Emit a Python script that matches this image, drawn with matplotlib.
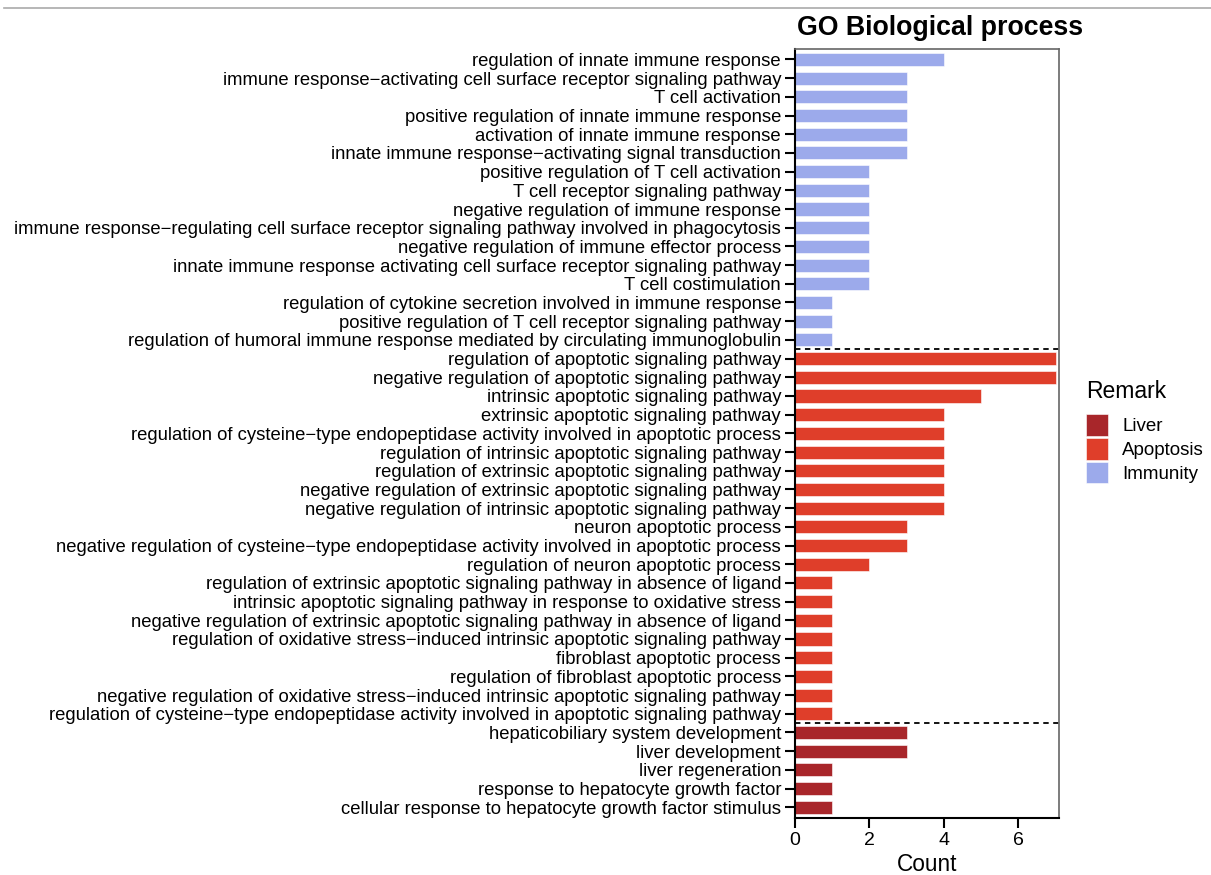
import matplotlib
matplotlib.use("Agg")
import matplotlib.pyplot as plt
from matplotlib.patches import Patch
from matplotlib.lines import Line2D

plt.rcParams['font.family'] = ['Liberation Sans', 'DejaVu Sans']

immunity_terms = [
    "regulation of innate immune response",
    "immune response\u2212activating cell surface receptor signaling pathway",
    "T cell activation",
    "positive regulation of innate immune response",
    "activation of innate immune response",
    "innate immune response\u2212activating signal transduction",
    "positive regulation of T cell activation",
    "T cell receptor signaling pathway",
    "negative regulation of immune response",
    "immune response\u2212regulating cell surface receptor signaling pathway involved in phagocytosis",
    "negative regulation of immune effector process",
    "innate immune response activating cell surface receptor signaling pathway",
    "T cell costimulation",
    "regulation of cytokine secretion involved in immune response",
    "positive regulation of T cell receptor signaling pathway",
    "regulation of humoral immune response mediated by circulating immunoglobulin",
]
immunity_counts = [4, 3, 3, 3, 3, 3, 2, 2, 2, 2, 2, 2, 2, 1, 1, 1]

apoptosis_terms = [
    "regulation of apoptotic signaling pathway",
    "negative regulation of apoptotic signaling pathway",
    "intrinsic apoptotic signaling pathway",
    "extrinsic apoptotic signaling pathway",
    "regulation of cysteine\u2212type endopeptidase activity involved in apoptotic process",
    "regulation of intrinsic apoptotic signaling pathway",
    "regulation of extrinsic apoptotic signaling pathway",
    "negative regulation of extrinsic apoptotic signaling pathway",
    "negative regulation of intrinsic apoptotic signaling pathway",
    "neuron apoptotic process",
    "negative regulation of cysteine\u2212type endopeptidase activity involved in apoptotic process",
    "regulation of neuron apoptotic process",
    "regulation of extrinsic apoptotic signaling pathway in absence of ligand",
    "intrinsic apoptotic signaling pathway in response to oxidative stress",
    "negative regulation of extrinsic apoptotic signaling pathway in absence of ligand",
    "regulation of oxidative stress\u2212induced intrinsic apoptotic signaling pathway",
    "fibroblast apoptotic process",
    "regulation of fibroblast apoptotic process",
    "negative regulation of oxidative stress\u2212induced intrinsic apoptotic signaling pathway",
    "regulation of cysteine\u2212type endopeptidase activity involved in apoptotic signaling pathway",
]
apoptosis_counts = [7, 7, 5, 4, 4, 4, 4, 4, 4, 3, 3, 2, 1, 1, 1, 1, 1, 1, 1, 1]

liver_terms = [
    "hepaticobiliary system development",
    "liver development",
    "liver regeneration",
    "response to hepatocyte growth factor",
    "cellular response to hepatocyte growth factor stimulus",
]
liver_counts = [3, 3, 1, 1, 1]

group_names = ["Liver", "Apoptosis", "Immunity"]
group_colors = {"Liver": "#A8262A", "Apoptosis": "#DF3E2A", "Immunity": "#9CAAEB"}

terms = immunity_terms + apoptosis_terms + liver_terms
counts = immunity_counts + apoptosis_counts + liver_counts
groups = (["Immunity"] * len(immunity_terms) + ["Apoptosis"] * len(apoptosis_terms)
          + ["Liver"] * len(liver_terms))

W, H = 1211, 875
fig = plt.figure(figsize=(W / 100, H / 100), dpi=100)
ax = fig.add_axes([795 / W, 1 - 817.7 / H, (1058.7 - 795) / W, (817.7 - 49) / H])

ypos = list(range(len(terms)))
ax.barh(ypos, counts, height=0.7, color=[group_colors[g] for g in groups],
        edgecolor='white', linewidth=0.4)

ax.set_yticks(ypos)
ax.set_yticklabels(terms, fontsize=13.3)
ax.set_ylim(len(terms) - 1 + 0.56, -0.56)
ax.set_xlim(0, 7.08)
ax.set_xticks([0, 2, 4, 6])
ax.tick_params(axis='x', labelsize=14, length=7, width=1.5, pad=3)
ax.tick_params(axis='y', length=7, width=1.5, pad=3)
ax.set_xlabel("Count", fontsize=16.3, labelpad=3)

for s in ['top', 'right']:
    ax.spines[s].set_color('#666666')
    ax.spines[s].set_linewidth(1.2)
for s in ['left', 'bottom']:
    ax.spines[s].set_color('black')
    ax.spines[s].set_linewidth(1.5)

n1 = len(immunity_terms)
n2 = n1 + len(apoptosis_terms)
for b in [n1 - 0.5, n2 - 0.5]:
    ax.axhline(b, color='black', linestyle=(0, (3, 2.5)), linewidth=1.3)

fig.text(797 / W, 1 - 35 / H, "GO Biological process", fontsize=19.3, fontweight='bold',
         va='baseline', ha='left')

fig.text(1086 / W, 1 - 391 / H, "Remark", fontsize=16.5, va='center', ha='left')
handles = [Patch(facecolor=group_colors[g], edgecolor='white', linewidth=0.4) for g in group_names]
leg = fig.legend(handles, group_names, loc='upper left',
                 bbox_to_anchor=(1086 / W, 1 - 414 / H), frameon=False,
                 fontsize=13.5, handlelength=1.17, handleheight=1.42,
                 handletextpad=0.75, labelspacing=0.1, borderaxespad=0, borderpad=0)

fig.add_artist(Line2D([4 / W, 1], [1 - 7.5 / H, 1 - 7.5 / H], color='#aaaaaa', linewidth=1.2,
                      transform=fig.transFigure))

fig.savefig("out.png", dpi=100)
